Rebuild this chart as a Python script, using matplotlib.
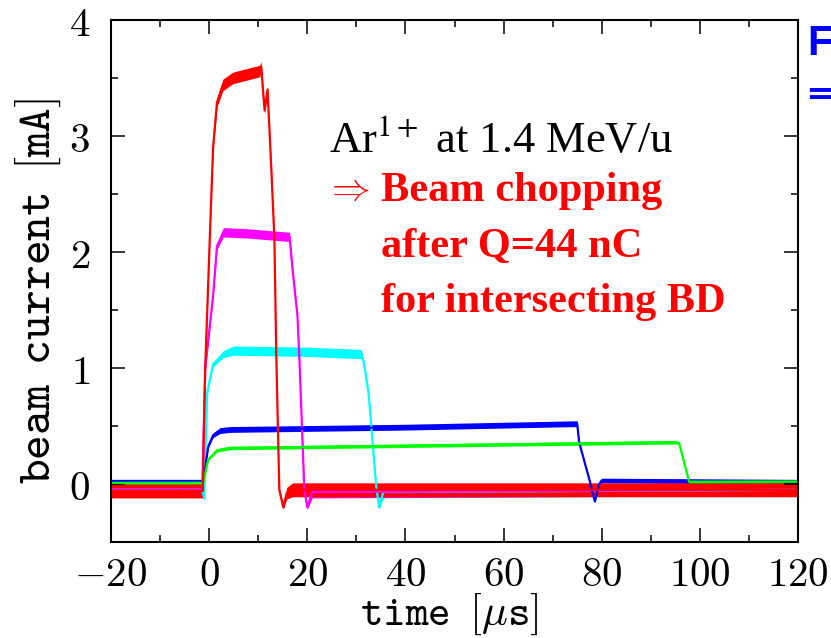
import matplotlib
matplotlib.use("Agg")
import matplotlib.pyplot as plt
import numpy as np

plt.rcParams["mathtext.fontset"] = "cm"

# ---- measured pulse traces (time in us, current in mA) ----
# each trace: breakpoints, mean level, half-width of the noise band
cyan_t = [-20, -1.5, -1.0, -0.4, 0.8, 2.9, 5, 20, 31, 31.5, 32.5, 34.0, 34.6, 35.5, 120]
cyan_y = [-0.05, -0.05, -0.12, 0.79, 1.03, 1.12, 1.15, 1.14, 1.12, 1.05, 0.78, 0.0, -0.2, -0.07, -0.05]
cyan_n = [0.05, 0.05, 0.02, 0.02, 0.02, 0.03, 0.04, 0.04, 0.04, 0.02, 0.02, 0.02, 0.02, 0.05, 0.05]

magenta_t = [-20, -1.4, -0.8, 0.8, 1.6, 2.9, 8, 16.4, 17.0, 18.0, 18.4, 19.4, 20.0, 21.0, 120]
magenta_y = [-0.05, -0.05, 1.0, 1.62, 2.05, 2.17, 2.16, 2.13, 1.85, 1.45, 1.07, -0.05, -0.2, -0.07, -0.05]
magenta_n = [0.05, 0.05, 0.02, 0.02, 0.03, 0.04, 0.04, 0.04, 0.02, 0.02, 0.02, 0.02, 0.02, 0.05, 0.05]

blue_t = [-20, -1.2, -0.2, 0.8, 2.2, 4.2, 40, 75.0, 75.4, 77.6, 78.6, 79.5, 80.0, 120]
blue_y = [0.02, 0.02, 0.32, 0.42, 0.46, 0.47, 0.49, 0.52, 0.36, 0.02, -0.15, 0.0, 0.03, 0.02]
blue_n = [0.02, 0.02, 0.01, 0.02, 0.025, 0.025, 0.025, 0.025, 0.01, 0.01, 0.01, 0.02, 0.02, 0.02]

green_t = [-20, -1.2, -0.2, 1.6, 4.2, 40, 95.2, 95.8, 97.8, 120]
green_y = [0.01, 0.01, 0.21, 0.29, 0.31, 0.33, 0.36, 0.35, 0.02, 0.02]
green_n = [0.015, 0.015, 0.01, 0.015, 0.015, 0.015, 0.015, 0.01, 0.015, 0.015]

red_t = [-20, -1.3, -0.8, 0.2, 0.8, 1.6, 2.8, 4.8, 10.3, 10.6, 11.3, 11.9, 12.7, 13.3, 13.7, 14.3, 15.1, 15.8, 17, 120]
red_y = [-0.06, -0.06, 1.0, 2.2, 2.9, 3.29, 3.44, 3.50, 3.56, 3.60, 3.22, 3.40, 2.69, 2.11, 1.07, -0.05, -0.2, -0.08, -0.05, -0.05]
red_n = [0.06, 0.06, 0.02, 0.02, 0.03, 0.04, 0.05, 0.05, 0.05, 0.04, 0.03, 0.03, 0.02, 0.02, 0.02, 0.02, 0.02, 0.05, 0.06, 0.06]

traces = [
    (cyan_t, cyan_y, cyan_n, "#00ffff"),
    (magenta_t, magenta_y, magenta_n, "#ff00ff"),
    (blue_t, blue_y, blue_n, "#0000ff"),
    (green_t, green_y, green_n, "#00ff00"),
    (red_t, red_y, red_n, "#ff0000"),
]

x_ticks = [-20, 0, 20, 40, 60, 80, 100, 120]
x_ticklabels = [r"$-20$", r"$0$", r"$20$", r"$40$", r"$60$", r"$80$", r"$100$", r"$120$"]
y_ticks = [0, 1, 2, 3, 4]
y_ticklabels = [r"$0$", r"$1$", r"$2$", r"$3$", r"$4$"]

W, H = 831, 638
fig = plt.figure(figsize=(W / 100, H / 100), dpi=100)
ax = fig.add_axes([111 / W, 96 / H, 687 / W, 522 / H])

for t, y, n, c in traces:
    t = np.asarray(t, float)
    y = np.asarray(y, float)
    n = np.asarray(n, float)
    ax.fill_between(t, y - n, y + n, color=c, lw=0)
    ax.plot(t, y, color=c, lw=1.6)

ax.set_xlim(-20, 120)
ax.set_ylim(-0.5, 4)
ax.set_xticks(x_ticks)
ax.set_xticklabels(x_ticklabels)
ax.set_yticks(y_ticks)
ax.set_yticklabels(y_ticklabels)
ax.set_xticks(np.arange(-10, 120, 20), minor=True)
ax.set_yticks(np.arange(-0.5, 4, 1.0), minor=True)
ax.tick_params(which="both", direction="in", top=True, right=True, width=1.1, color="black")
ax.tick_params(which="major", length=10, labelsize=29.5)
ax.tick_params(which="minor", length=5)
ax.tick_params(axis="x", which="major", pad=9)
ax.tick_params(axis="y", which="major", pad=15)
for s in ax.spines.values():
    s.set_linewidth(1.5)

ax.set_xlabel(r"$\mathtt{time}\enspace\mathtt{[}\mu\mathtt{s]}$", fontsize=31, va="center")
ax.xaxis.set_label_coords(0.493, -0.138)
ax.set_ylabel(r"$\mathtt{beam}\enspace\mathtt{current}\enspace\mathtt{[mA]}$", fontsize=34, va="center")
ax.yaxis.set_label_coords(-0.106, 0.481)

ax.text(24.4, 2.86, r"Ar$^{\mathrm{1+}}$ at 1.4 MeV/u", fontsize=32,
        family="Liberation Serif", math_fontfamily="stix", color="black")
ax.text(23.6, 2.45, r"$\Rightarrow$", fontsize=28, color="#ff0000", math_fontfamily="cm")
red_lines = ["Beam chopping", "after Q=44 nC", "for intersecting BD"]
for i, s in enumerate(red_lines):
    ax.text(35.0, 2.44 - i * 0.48, s, fontsize=30.5, family="Liberation Serif",
            fontweight="bold", color="#ff0000")

fig.text(807 / W, 1 - 55 / H, "F", fontsize=30, family="Liberation Sans",
         fontweight="bold", color="#0000ff")
fig.text(806 / W, 1 - 109 / H, "\u21d2", fontsize=36, family="DejaVu Sans",
         fontweight="bold", color="#0000ff")

fig.savefig("out.png", dpi=100)
